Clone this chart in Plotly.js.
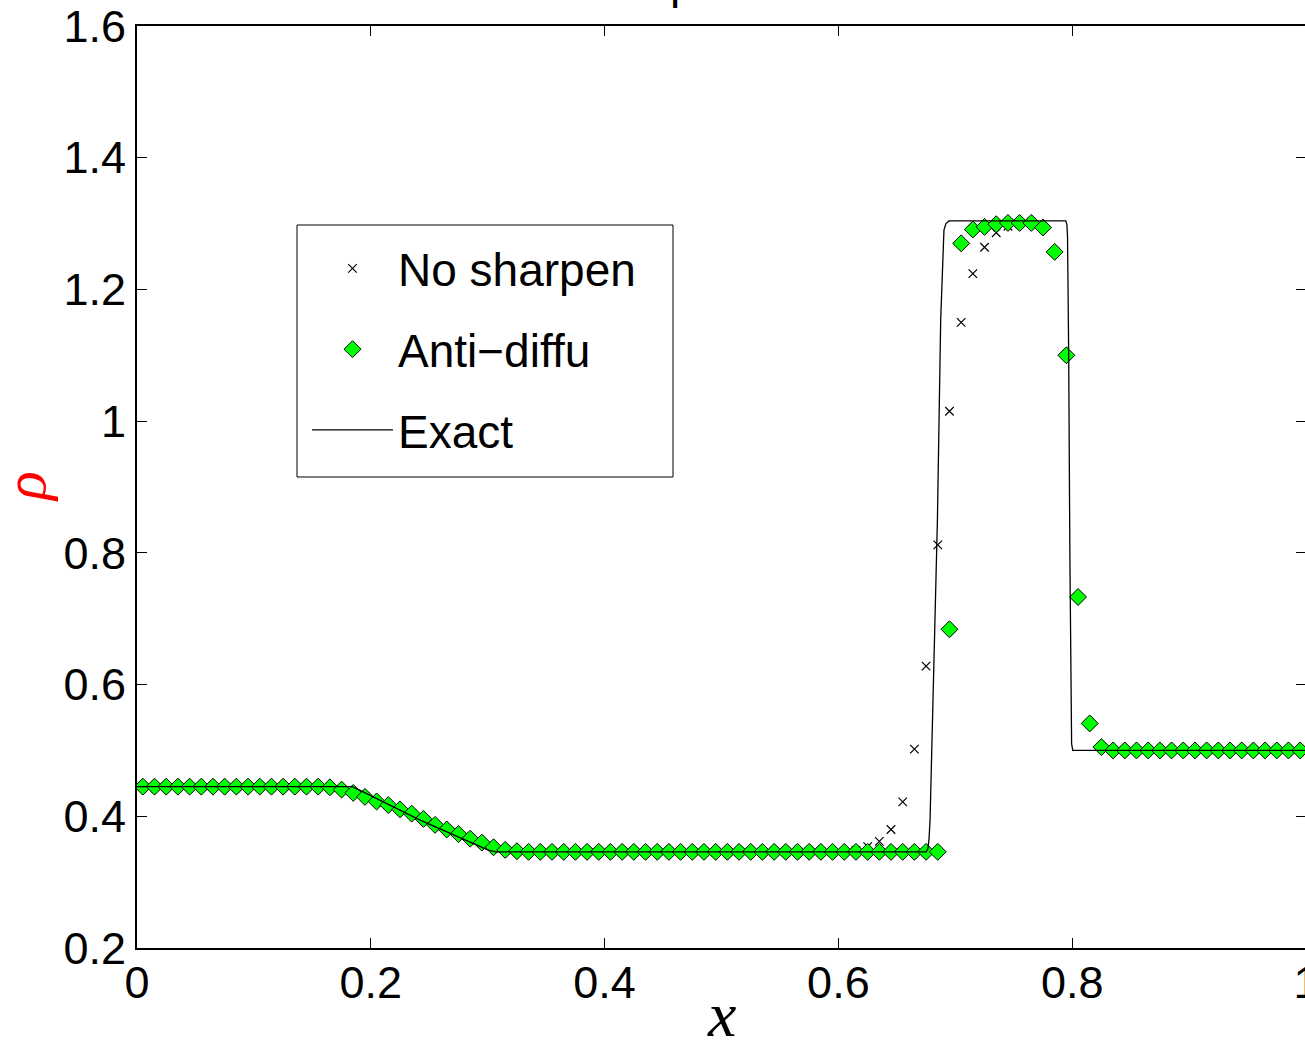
<!DOCTYPE html>
<html><head><meta charset="utf-8">
<script src="https://cdn.plot.ly/plotly-3.0.1.min.js"></script>
<style>html,body{margin:0;padding:0;overflow:hidden;background:#fff}</style>
</head><body><div id="chart" style="width:1310px;height:1041px"></div>
<script>
// cell centres
const xCells = [0.005,0.015,0.025,0.035,0.045,0.055,0.065,0.075,0.085,0.095,
0.105,0.115,0.125,0.135,0.145,0.155,0.165,0.175,0.185,0.195,
0.205,0.215,0.225,0.235,0.245,0.255,0.265,0.275,0.285,0.295,
0.305,0.315,0.325,0.335,0.345,0.355,0.365,0.375,0.385,0.395,
0.405,0.415,0.425,0.435,0.445,0.455,0.465,0.475,0.485,0.495,
0.505,0.515,0.525,0.535,0.545,0.555,0.565,0.575,0.585,0.595,
0.605,0.615,0.625,0.635,0.645,0.655,0.665,0.675,0.685,0.695,
0.705,0.715,0.725,0.735,0.745,0.755,0.765,0.775,0.785,0.795,
0.805,0.815,0.825,0.835,0.845,0.855,0.865,0.875,0.885,0.895,
0.905,0.915,0.925,0.935,0.945,0.955,0.965,0.975,0.985,0.995];

const rhoNoSharpen = [0.445,0.445,0.445,0.445,0.445,0.445,0.445,0.445,0.445,0.445,
0.445,0.445,0.445,0.445,0.445,0.445,0.444,0.4405,0.4355,0.4295,
0.4225,0.417,0.4105,0.404,0.396,0.387,0.380,0.373,0.366,0.360,
0.353,0.349,0.347,0.346,0.346,0.346,0.346,0.346,0.346,0.346,
0.346,0.346,0.346,0.346,0.346,0.346,0.346,0.346,0.346,0.346,
0.346,0.346,0.346,0.346,0.346,0.346,0.346,0.346,0.346,0.346,
0.346,0.348,0.354,0.362,0.380,0.422,0.502,0.628,0.812,1.015,
1.150,1.224,1.264,1.286,1.296,1.300,1.302,1.294,1.257,1.100,
0.733,0.541,0.505,0.500,0.500,0.500,0.500,0.500,0.500,0.500,
0.500,0.500,0.500,0.500,0.500,0.500,0.500,0.500,0.500,0.500];

const rhoAntiDiffu = [0.445,0.445,0.445,0.445,0.445,0.445,0.445,0.445,0.445,0.445,
0.445,0.445,0.445,0.445,0.445,0.445,0.444,0.4405,0.4355,0.4295,
0.4225,0.417,0.4105,0.404,0.396,0.387,0.380,0.373,0.366,0.360,
0.353,0.349,0.347,0.346,0.346,0.346,0.346,0.346,0.346,0.346,
0.346,0.346,0.346,0.346,0.346,0.346,0.346,0.346,0.346,0.346,
0.346,0.346,0.346,0.346,0.346,0.346,0.346,0.346,0.346,0.346,
0.346,0.346,0.346,0.346,0.346,0.346,0.346,0.346,0.346,0.684,
1.270,1.291,1.295,1.299,1.301,1.301,1.301,1.294,1.257,1.100,
0.733,0.541,0.505,0.500,0.500,0.500,0.500,0.500,0.500,0.500,
0.500,0.500,0.500,0.500,0.500,0.500,0.500,0.500,0.500,0.500];

const xExact = [0,0.184,0.19,0.20,0.21,0.22,0.23,0.24,0.25,0.26,0.27,0.28,0.29,0.30,0.307,
0.675,0.6765,0.6775,0.6784,0.6807,0.6824,0.6847,0.6875,0.6892,0.6903,0.692,0.6946,
0.7945,0.7955,0.796,0.797,0.798,0.799,0.7995,0.8005,1];
const rhoExact = [0.445,0.445,0.440,0.431,0.422,0.413,0.404,0.396,0.388,0.380,0.372,0.364,0.356,0.349,0.346,
0.346,0.350,0.365,0.394,0.546,0.698,0.850,1.154,1.260,1.290,1.300,1.304,
1.304,1.298,1.280,1.100,0.800,0.560,0.510,0.500,0.500];

const xTicks = [0,0.2,0.4,0.6,0.8,1];
const xTickText = ['0','0.2','0.4','0.6','0.8','1'];
const yTicks = [0.2,0.4,0.6,0.8,1,1.2,1.4,1.6];
const yTickText = ['0.2','0.4','0.6','0.8','1','1.2','1.4','1.6'];
const titleText = 'Lax problem';
const xTitle = 'x';
const yTitle = '\u03c1';

const sans = 'Liberation Sans, Arial, Helvetica, sans-serif';
const serif = 'Liberation Serif, Times New Roman, serif';

const traces = [
  {x: xCells, y: rhoNoSharpen, type:'scatter', mode:'markers', name:'No sharpen', legendgroup:'a',
   marker:{symbol:'x-thin-open', size:8.5, color:'#000', line:{color:'#000', width:1.2}}},
  {x: xCells, y: rhoAntiDiffu, type:'scatter', mode:'markers', name:'Anti\u2212diffu', legendgroup:'b',
   marker:{symbol:'diamond', size:13, color:'#00ff00', line:{color:'#000', width:1}}},
  {x: xExact, y: rhoExact, type:'scatter', mode:'lines', name:'Exact', legendgroup:'c',
   line:{color:'#000', width:1.3}}
];

const axisCommon = {
  ticks:'inside', ticklen:10, tickwidth:1, tickcolor:'#000',
  showline:true, linewidth:2, linecolor:'#000', mirror:'ticks',
  showgrid:false, zeroline:false, ticklabeloverflow:'allow',
  tickfont:{family:sans, size:45, color:'#000'}
};

const layout = {
  width:1310, height:1041,
  margin:{l:137, r:4, t:26, b:93},
  paper_bgcolor:'#fff', plot_bgcolor:'#fff',
  showlegend:true,
  legend:{x:0.14542, y:0.7766, xanchor:'left', yanchor:'top',
    bgcolor:'rgba(0,0,0,0)', borderwidth:0,
    font:{family:sans, size:46, color:'#000'}, tracegroupgap:18, itemwidth:81},
  shapes:[{type:'rect', xref:'paper', yref:'paper', x0:0.13687, x1:0.45851, y0:0.51085, y1:0.78416,
    line:{color:'#000', width:1}, fillcolor:'#fff', layer:'below'}],
  xaxis: Object.assign({}, axisCommon, {range:[0,1], tickmode:'array', tickvals:xTicks, ticktext:xTickText,
    ticklabelstandoff:-6}),
  yaxis: Object.assign({}, axisCommon, {range:[0.2,1.6], tickmode:'array', tickvals:yTicks, ticktext:yTickText}),
  annotations:[
    {text:titleText, xref:'paper', yref:'paper', x:0.5, y:1, xanchor:'center', yanchor:'bottom',
     yshift:16, xshift:-12, showarrow:false, font:{family:sans, size:46, color:'#000'}},
    {text:xTitle, xref:'paper', yref:'paper', x:0.5, y:0, xanchor:'center', yanchor:'middle',
     height:45, valign:'middle', yshift:-66, showarrow:false,
     font:{family:serif, size:64, color:'#000', style:'italic'}},
    {text:yTitle, xref:'paper', yref:'paper', x:0, y:0.5, xanchor:'center', yanchor:'middle', textangle:-90,
     height:44, valign:'bottom', xshift:-101, showarrow:false,
     font:{family:serif, size:60, color:'#ff0000', style:'italic'}}
  ]
};

Plotly.newPlot('chart', traces, layout, {displayModeBar:false});
</script></body></html>
